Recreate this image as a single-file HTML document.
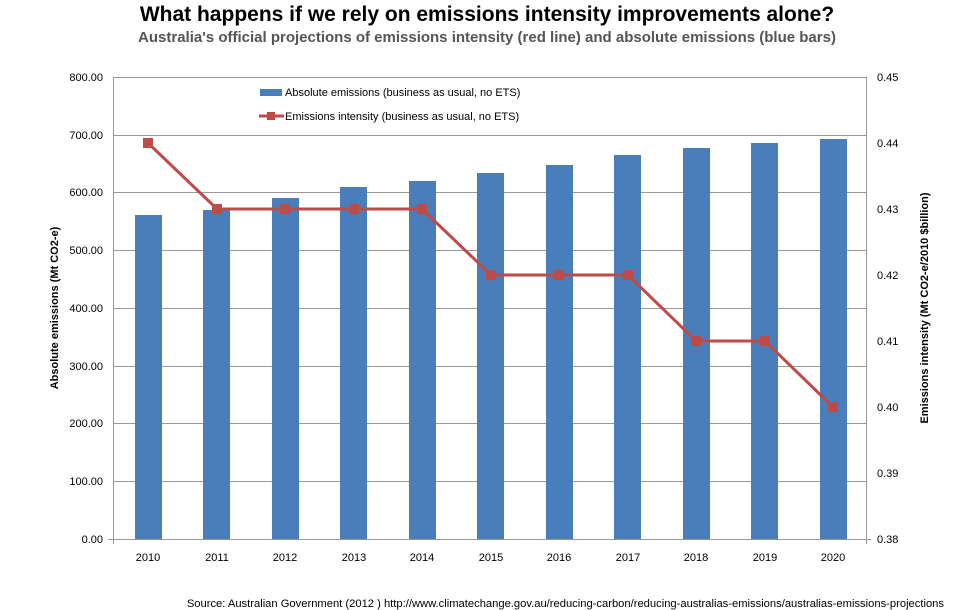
<!DOCTYPE html>
<html><head><meta charset="utf-8"><style>
body{margin:0;background:#fff;}
svg{display:block;font-family:"Liberation Sans",sans-serif;}
</style></head><body>
<svg width="974" height="610" viewBox="0 0 974 610">
<text x="487" y="21" text-anchor="middle" font-size="21" font-weight="bold" fill="#000">What happens if we rely on emissions intensity improvements alone?</text>
<text x="487" y="42" text-anchor="middle" font-size="15" font-weight="bold" fill="#555">Australia's official projections of emissions intensity (red line) and absolute emissions (blue bars)</text>
<g stroke="#999" stroke-width="1">
<line x1="113" y1="77.5" x2="866" y2="77.5"/><line x1="113" y1="135.5" x2="866" y2="135.5"/>
<line x1="113" y1="192.5" x2="866" y2="192.5"/><line x1="113" y1="250.5" x2="866" y2="250.5"/>
<line x1="113" y1="308.5" x2="866" y2="308.5"/><line x1="113" y1="366.5" x2="866" y2="366.5"/>
<line x1="113" y1="423.5" x2="866" y2="423.5"/><line x1="113" y1="481.5" x2="866" y2="481.5"/>
<line x1="108" y1="539.5" x2="871" y2="539.5"/>
<line x1="113.5" y1="77" x2="113.5" y2="544"/><line x1="866.5" y1="77" x2="866.5" y2="544"/>
</g>
<g fill="#4a7ebb">
<rect x="135" y="215" width="27" height="324"/>
<rect x="203" y="210" width="27" height="329"/>
<rect x="272" y="198" width="27" height="341"/>
<rect x="340" y="187" width="27" height="352"/>
<rect x="409" y="181" width="27" height="358"/>
<rect x="477" y="173" width="27" height="366"/>
<rect x="546" y="165" width="27" height="374"/>
<rect x="614" y="155" width="27" height="384"/>
<rect x="683" y="148" width="27" height="391"/>
<rect x="751" y="143" width="27" height="396"/>
<rect x="820" y="139" width="27" height="400"/>
</g>
<polyline fill="none" stroke="#be4b48" stroke-width="3" points="148,143 217,209 285,209 354,209 422,209 491,275 559,275 628,275 696,341 765,341 833,407"/>
<g fill="#be4b48">
<rect x="143" y="138" width="10" height="10"/><rect x="212" y="204" width="10" height="10"/>
<rect x="280" y="204" width="10" height="10"/><rect x="349" y="204" width="10" height="10"/>
<rect x="417" y="204" width="10" height="10"/><rect x="486" y="270" width="10" height="10"/>
<rect x="554" y="270" width="10" height="10"/><rect x="623" y="270" width="10" height="10"/>
<rect x="691" y="336" width="10" height="10"/><rect x="760" y="336" width="10" height="10"/>
<rect x="828" y="402" width="10" height="10"/>
</g>
<rect x="260" y="89" width="22" height="7" fill="#4a7ebb"/>
<text x="285" y="96" font-size="11" fill="#000">Absolute emissions (business as usual, no ETS)</text>
<line x1="259" y1="116" x2="284" y2="116" stroke="#be4b48" stroke-width="3"/>
<rect x="267" y="112" width="8" height="8" fill="#be4b48"/>
<text x="285" y="120" font-size="11" fill="#000">Emissions intensity (business as usual, no ETS)</text>
<g font-size="11" fill="#000" text-anchor="end">
<text x="103" y="81">800.00</text><text x="103" y="139">700.00</text><text x="103" y="196">600.00</text>
<text x="103" y="254">500.00</text><text x="103" y="312">400.00</text><text x="103" y="370">300.00</text>
<text x="103" y="427">200.00</text><text x="103" y="485">100.00</text><text x="103" y="543">0.00</text>
</g>
<g font-size="11" fill="#000">
<text x="877" y="81">0.45</text><text x="877" y="147">0.44</text><text x="877" y="213">0.43</text>
<text x="877" y="279">0.42</text><text x="877" y="345">0.41</text><text x="877" y="411">0.40</text>
<text x="877" y="477">0.39</text><text x="877" y="543">0.38</text>
</g>
<g font-size="11" fill="#000" text-anchor="middle">
<text x="148" y="561">2010</text><text x="217" y="561">2011</text><text x="285" y="561">2012</text>
<text x="354" y="561">2013</text><text x="422" y="561">2014</text><text x="491" y="561">2015</text>
<text x="559" y="561">2016</text><text x="628" y="561">2017</text><text x="696" y="561">2018</text>
<text x="765" y="561">2019</text><text x="833" y="561">2020</text>
</g>
<text transform="translate(58,308) rotate(-90)" text-anchor="middle" font-size="11" font-weight="bold">Absolute emissions  (Mt CO2-e)</text>
<text transform="translate(928,308) rotate(-90)" text-anchor="middle" font-size="11" font-weight="bold">Emissions intensity (Mt CO2-e/2010 $billion)</text>
<text x="944" y="607" text-anchor="end" font-size="11.2" fill="#000">Source: Australian Government (2012 ) http://www.climatechange.gov.au/reducing-carbon/reducing-australias-emissions/australias-emissions-projections</text>
</svg>
</body></html>
